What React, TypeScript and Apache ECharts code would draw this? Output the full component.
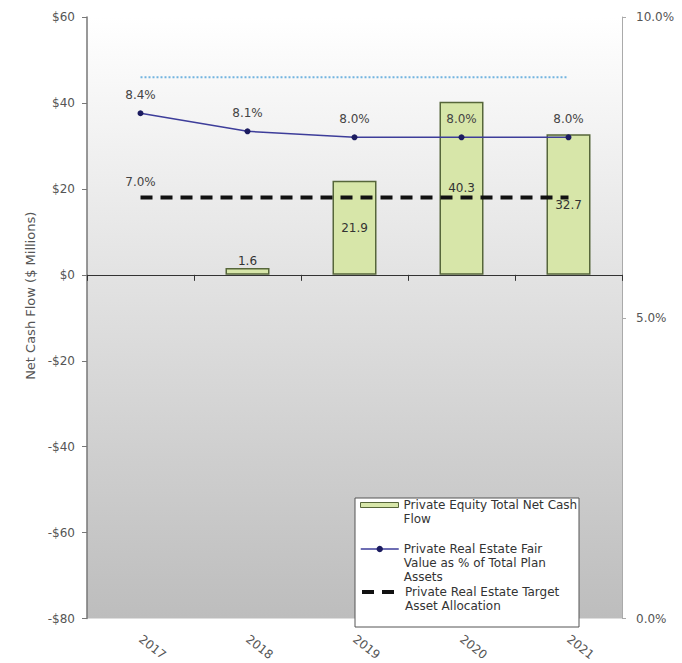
import React, { useEffect, useRef } from 'react';
import * as echarts from 'echarts';

// ---- Data ----
const years = ['2017', '2018', '2019', '2020', '2021'];
const netCashFlow: (number | null)[] = [null, 1.6, 21.9, 40.3, 32.7];
const fairValuePct = [8.4, 8.1, 8.0, 8.0, 8.0];
const targetPct = [7.0, 7.0, 7.0, 7.0, 7.0];
const upperRangePct = [9.0, 9.0, 9.0, 9.0, 9.0];
const cashAxisRange = [-80, 60];
const cashAxisStep = 20;
const pctAxisRange = [0, 10];
const pctAxisStep = 5;

const seriesNames = [
  'Private Equity Total Net Cash Flow',
  'Private Real Estate Fair Value as % of Total Plan Assets',
  'Private Real Estate Target Asset Allocation',
];
const legendLines = [
  ['Private Equity Total Net Cash', 'Flow'],
  ['Private Real Estate Fair', 'Value as % of Total Plan', 'Assets'],
  ['Private Real Estate Target', 'Asset Allocation'],
];
const yAxisTitle = 'Net Cash Flow ($ Millions)';

export default function App() {
  const ref = useRef<HTMLDivElement>(null);

  useEffect(() => {
    if (!ref.current) return;
    const chart = echarts.init(ref.current, null, { renderer: 'svg' });
    const font = 'DejaVu Sans';
    const LH = 14;

    // Pads the wrapped label with empty lines above it so that the legend
    // icon (vertically centred on the text block) sits beside the first line.
    const legendText = (idx: number) => {
      const lines = legendLines[idx];
      return new Array(lines.length - 1).fill('').concat(lines).join('\n');
    };

    const legendBase = (idx: number, firstLineY: number, extra: any) => {
      const n = legendLines[idx].length * 2 - 1;
      return {
        data: [seriesNames[idx]],
        orient: 'vertical',
        left: 360,
        top: firstLineY - (n * LH) / 2,
        padding: 0,
        itemGap: 0,
        itemWidth: 38,
        selectedMode: false,
        formatter: () => legendText(idx),
        textStyle: {
          fontFamily: font,
          fontSize: 12,
          color: '#333',
          lineHeight: LH,
        },
        z: 6,
        ...extra,
      };
    };

    const option: any = {
      animation: false,
      backgroundColor: '#ffffff',
      textStyle: { fontFamily: font },
      grid: {
        left: 87,
        right: 60,
        top: 17,
        bottom: 42,
        show: true,
        borderWidth: 0,
        backgroundColor: new echarts.graphic.LinearGradient(0, 0, 0, 1, [
          { offset: 0, color: '#ffffff' },
          { offset: 1, color: '#bdbdbd' },
        ]),
      },
      graphic: [
        {
          type: 'rect',
          z: 5,
          shape: { x: 355, y: 498, width: 224, height: 129 },
          style: { fill: '#ffffff', stroke: '#555555', lineWidth: 1 },
        },
      ],
      legend: [
        legendBase(0, 505, { itemHeight: 5, icon: 'rect', itemStyle: { borderWidth: 1 } }),
        legendBase(1, 549, { itemHeight: 8, lineStyle: { width: 1.5 } }),
        legendBase(2, 592, { itemHeight: 8, lineStyle: { width: 4 } }),
      ],
      xAxis: [
        {
          type: 'category',
          data: years,
          position: 'bottom',
          axisLine: { show: true, onZero: true, onZeroAxisIndex: 0, lineStyle: { color: '#333', width: 1 } },
          axisTick: { show: true, length: 6, lineStyle: { color: '#333' } },
          axisLabel: { show: false },
          splitLine: { show: false },
        },
        {
          type: 'category',
          data: years,
          position: 'bottom',
          axisLine: { show: false, onZero: false },
          axisTick: { show: false },
          axisLabel: { rotate: -38, margin: 19, interval: 0, color: '#555', fontSize: 12, fontFamily: font },
          splitLine: { show: false },
        },
      ],
      yAxis: [
        {
          type: 'value',
          position: 'left',
          min: cashAxisRange[0],
          max: cashAxisRange[1],
          interval: cashAxisStep,
          name: yAxisTitle,
          nameLocation: 'middle',
          nameGap: 50,
          nameTextStyle: { color: '#555', fontSize: 13, fontFamily: font, padding: [0, 0, 0, 44] },
          axisLine: { show: true, lineStyle: { color: '#777', width: 1.5 } },
          axisTick: { show: true, length: 5, lineStyle: { color: '#777' } },
          axisLabel: {
            color: '#555',
            fontSize: 12,
            margin: 12,
            formatter: (v: number) => (v < 0 ? '-$' + Math.abs(v) : '$' + v),
          },
          splitLine: { show: false },
        },
        {
          type: 'value',
          position: 'right',
          min: pctAxisRange[0],
          max: pctAxisRange[1],
          interval: pctAxisStep,
          axisLine: { show: true, lineStyle: { color: '#aaa', width: 1 } },
          axisTick: { show: true, length: 4, lineStyle: { color: '#aaa' } },
          axisLabel: {
            color: '#555',
            fontSize: 12,
            margin: 14,
            formatter: (v: number) => v.toFixed(1) + '%',
          },
          splitLine: { show: false },
        },
      ],
      series: [
        {
          name: seriesNames[0],
          type: 'bar',
          xAxisIndex: 0,
          yAxisIndex: 0,
          barWidth: 44,
          data: netCashFlow.map((v) =>
            v == null ? '-' : { value: v, label: { position: v < 5 ? 'top' : 'inside' } }
          ),
          itemStyle: { color: '#d7e6a9', borderColor: '#56663a', borderWidth: 1.5 },
          label: {
            show: true,
            color: '#333',
            fontSize: 12,
            distance: 1,
            formatter: (p: any) => Number(p.value).toFixed(1),
          },
        },
        {
          name: seriesNames[1],
          type: 'line',
          xAxisIndex: 0,
          yAxisIndex: 1,
          data: fairValuePct,
          symbol: 'circle',
          symbolSize: 6,
          itemStyle: { color: '#1c1c60' },
          lineStyle: { color: '#3d3d9a', width: 1.5 },
          label: {
            show: true,
            position: 'top',
            distance: 9,
            color: '#444',
            fontSize: 12,
            formatter: (p: any) => Number(p.value).toFixed(1) + '%',
          },
          z: 3,
        },
        {
          name: seriesNames[2],
          type: 'line',
          xAxisIndex: 0,
          yAxisIndex: 1,
          data: targetPct.map((v, i) => (i === 0 ? { value: v, label: { show: true } } : v)),
          symbol: 'circle',
          symbolSize: 0.01,
          itemStyle: { color: 'rgba(0,0,0,0)' },
          lineStyle: { color: '#111', width: 4, type: [12, 8] },
          label: {
            show: false,
            position: 'top',
            distance: 9,
            color: '#444',
            fontSize: 12,
            formatter: (p: any) => Number(p.value).toFixed(1) + '%',
          },
          z: 3,
        },
        {
          name: 'Upper Range',
          type: 'line',
          xAxisIndex: 0,
          yAxisIndex: 1,
          data: upperRangePct,
          symbol: 'none',
          silent: true,
          lineStyle: { color: '#72b4e0', width: 2, type: [2, 2] },
          z: 3,
        },
      ],
    };

    chart.setOption(option);
    return () => chart.dispose();
  }, []);

  return (
    <div
      ref={ref}
      style={{ position: 'fixed', left: 0, top: 0, width: 682, height: 663, background: '#fff' }}
    />
  );
}
